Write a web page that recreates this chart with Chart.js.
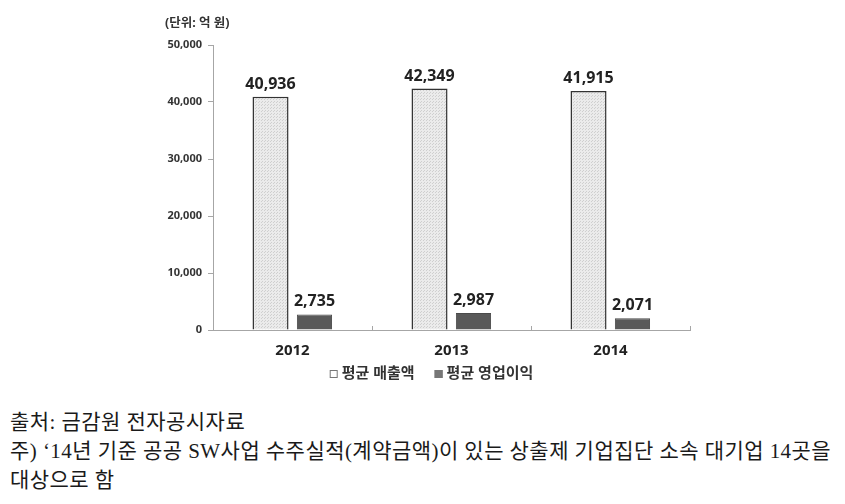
<!DOCTYPE html>
<html>
<head>
<meta charset="utf-8">
<script src="https://cdn.jsdelivr.net/npm/chart.js@4.4.1/dist/chart.umd.min.js"></script>
<style>
  body { margin: 0; background: #fff; }
  #wrap { position: relative; width: 845px; height: 504px; }
  #chartBox { position: absolute; left: 0; top: 0; width: 845px; height: 400px; }
  .note {
    position: absolute; left: 10px; width: 835px; height: 30px;
    font-family: "Liberation Serif", "Noto Sans CJK KR", serif;
    font-size: 21px; letter-spacing: 0.45px; line-height: 30px; color: #1a1a1a; white-space: nowrap;
  }
</style>
</head>
<body>
<div id="wrap">
  <div id="chartBox"><canvas id="chart" width="845" height="400"></canvas></div>
  <div class="note" style="top:407px">출처: 금감원 전자공시자료</div>
  <div class="note" style="top:436px">주) ‘14년 기준 공공 SW사업 수주실적(계약금액)이 있는 상출제 기업집단 소속 대기업 14곳을</div>
  <div class="note" style="top:465px">대상으로 함</div>
</div>
<script>
const years = ['2012', '2013', '2014'];
const avgSales = [40936, 42349, 41915];     // 평균 매출액
const avgProfit = [2735, 2987, 2071];       // 평균 영업이익
const seriesNames = ['평균 매출액', '평균 영업이익'];
const yTicks = [0, 10000, 20000, 30000, 40000, 50000];
const unitText = '(단위: 억 원)';

const FONT = "'Noto Sans', 'Noto Sans CJK KR', sans-serif";

// dotted light-gray fill for the sales bars
function dotPattern() {
    const c = document.createElement('canvas');
    c.width = 3; c.height = 3;
    const g = c.getContext('2d');
    g.fillStyle = '#ebebeb';
    g.fillRect(0, 0, 3, 3);
    g.fillStyle = '#cfcfcf';
    g.fillRect(0, 0, 1, 1);
    g.fillRect(1, 2, 1, 1);
    return g.createPattern(c, 'repeat');
}

// value labels above every bar
const valueLabels = {
    id: 'valueLabels',
    afterDatasetsDraw(chart) {
        const ctx = chart.ctx;
        ctx.save();
        ctx.font = 'bold 16px ' + FONT;
        ctx.fillStyle = '#222';
        ctx.textAlign = 'center';
        ctx.textBaseline = 'alphabetic';
        chart.data.datasets.forEach((ds, i) => {
            chart.getDatasetMeta(i).data.forEach((bar, j) => {
                ctx.fillText(ds.data[j].toLocaleString('en-US'), bar.x, bar.y - 8);
            });
        });
        ctx.restore();
    }
};

// unit text, small upward ticks on the x axis, and the legend row
const axisExtras = {
    id: 'axisExtras',
    afterDraw(chart) {
        const ctx = chart.ctx;
        const area = chart.chartArea;
        const x = chart.scales.x;
        ctx.save();
        ctx.font = 'bold 12.5px ' + FONT;
        ctx.fillStyle = '#333';
        ctx.textAlign = 'left';
        ctx.textBaseline = 'middle';
        ctx.fillText(unitText, area.left - 48, area.top - 22);

        ctx.strokeStyle = '#a6a6a6';
        ctx.lineWidth = 1;
        const half = (x.getPixelForValue(1) - x.getPixelForValue(0)) / 2;
        for (let i = 0; i < years.length; i++) {
            const px = Math.round(x.getPixelForValue(i) + half) + 0.5;
            ctx.beginPath();
            ctx.moveTo(px, area.bottom);
            ctx.lineTo(px, area.bottom - 4);
            ctx.stroke();
        }

        // legend
        ctx.font = 'bold 15px ' + FONT;
        const box = 8, gap = 4, itemGap = 20;
        const widths = seriesNames.map(t => ctx.measureText(t).width);
        const total = widths.reduce((a, w) => a + box + gap + w, 0) + itemGap;
        let lx = (area.left + area.right) / 2 - 20 - total / 2;
        const ly = area.bottom + 44;
        const boxFill = ['#fff', '#777'];
        for (let i = 0; i < seriesNames.length; i++) {
            ctx.fillStyle = boxFill[i];
            ctx.fillRect(lx, ly - box / 2, box, box);
            ctx.strokeStyle = '#777';
            ctx.strokeRect(lx + 0.5, ly - box / 2 + 0.5, box - 1, box - 1);
            ctx.fillStyle = '#333';
            ctx.fillText(seriesNames[i], lx + box + gap, ly);
            lx += box + gap + widths[i] + itemGap;
        }
        ctx.restore();
    }
};

const data = {
    labels: years,
    datasets: [
        {
            label: seriesNames[0],
            data: avgSales,
            backgroundColor: dotPattern(),
            borderColor: '#333',
            borderWidth: 1.5,
            categoryPercentage: 0.553,
            barPercentage: 0.82
        },
        {
            label: seriesNames[1],
            data: avgProfit,
            backgroundColor: '#595959',
            borderColor: '#4a4a4a',
            borderWidth: 1,
            categoryPercentage: 0.553,
            barPercentage: 0.8
        }
    ]
};

const config = {
    type: 'bar',
    data: data,
    options: {
        responsive: false,
        animation: false,
        layout: { padding: { left: 0, right: 155, top: 45, bottom: 36 } },
        plugins: {
            tooltip: { enabled: false },
            legend: { display: false }
        },
        scales: {
            x: {
                grid: { display: false },
                border: { color: '#a6a6a6', width: 1 },
                ticks: {
                    color: '#222',
                    padding: 4,
                    font: { family: FONT, size: 15, weight: 'bold' }
                }
            },
            y: {
                min: 0,
                max: 50000,
                afterBuildTicks(scale) {
                    scale.ticks = yTicks.map(v => ({ value: v }));
                },
                afterFit(scale) {
                    scale.width = 213;
                },
                grid: { drawOnChartArea: false, tickLength: 5, color: '#a6a6a6' },
                border: { color: '#a6a6a6', width: 1 },
                ticks: {
                    color: '#333',
                    padding: 6,
                    font: { family: FONT, size: 11, weight: 'bold' },
                    callback: v => v.toLocaleString('en-US')
                }
            }
        }
    },
    plugins: [valueLabels, axisExtras]
};

new Chart(document.getElementById('chart'), config);
</script>
</body>
</html>
